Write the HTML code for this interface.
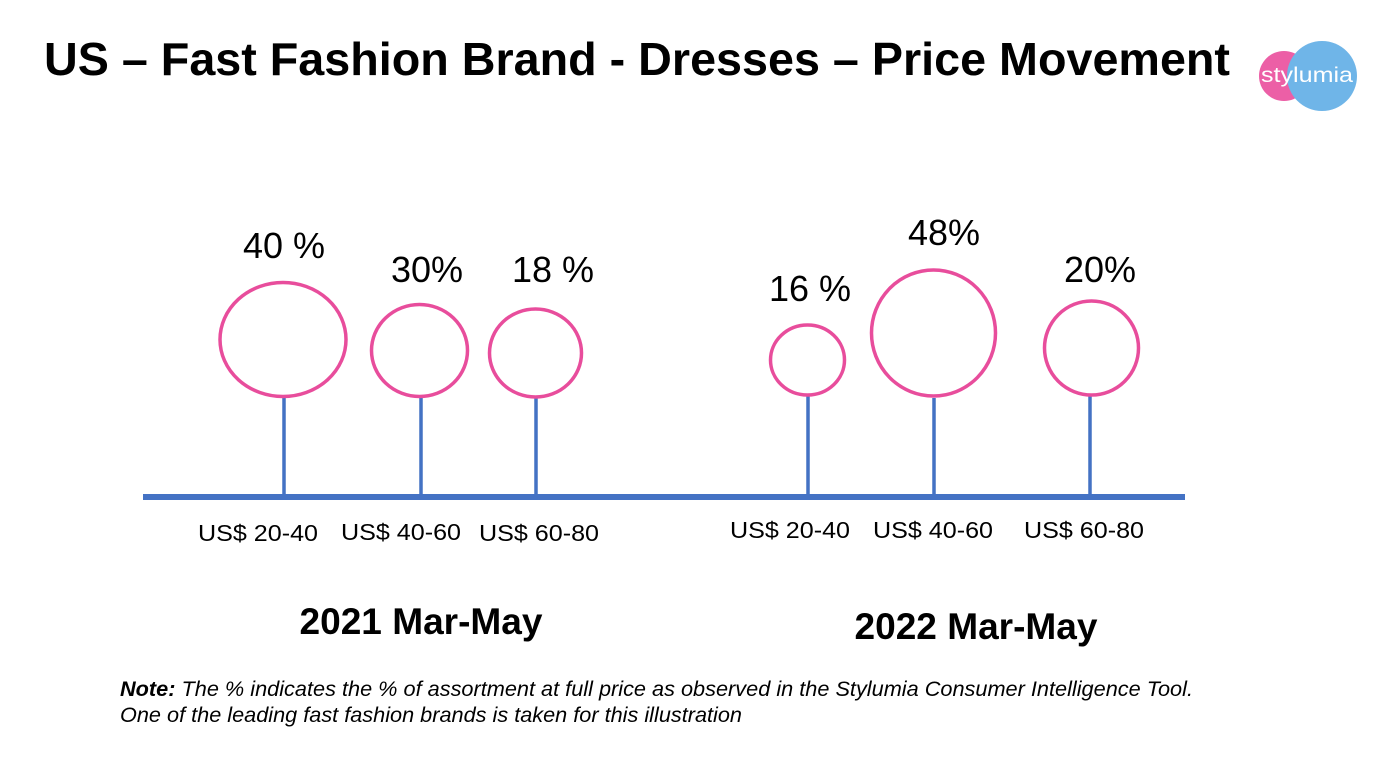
<!DOCTYPE html>
<html><head><meta charset="utf-8"><style>html,body{margin:0;padding:0;background:#fff}</style></head>
<body>
<svg width="1394" height="760" viewBox="0 0 1394 760" xmlns="http://www.w3.org/2000/svg" font-family="Liberation Sans, Arial, sans-serif">
<text x="44" y="75" font-size="46" font-weight="bold" fill="#000" textLength="1186" lengthAdjust="spacingAndGlyphs">US – Fast Fashion Brand - Dresses – Price Movement</text>
<!-- logo -->
<circle cx="1284" cy="76" r="25" fill="#ec5fa6"/>
<circle cx="1322" cy="76" r="35" fill="#6fb5e8"/>
<text x="1307" y="82" font-size="21" fill="#fff" text-anchor="middle" textLength="92" lengthAdjust="spacingAndGlyphs">stylumia</text>
<!-- axis -->
<rect x="143" y="494" width="1042" height="6" fill="#4472c4"/>
<g stroke="#4472c4" stroke-width="3.5">
<line x1="284" y1="398" x2="284" y2="495"/>
<line x1="421" y1="398" x2="421" y2="495"/>
<line x1="536" y1="398" x2="536" y2="495"/>
<line x1="808" y1="396" x2="808" y2="495"/>
<line x1="934" y1="398" x2="934" y2="495"/>
<line x1="1090" y1="396" x2="1090" y2="495"/>
</g>
<g fill="none" stroke="#e84d9c" stroke-width="3.5">
<ellipse cx="283" cy="339.5" rx="63" ry="57"/>
<ellipse cx="419.5" cy="350.5" rx="48" ry="46"/>
<ellipse cx="535.5" cy="353" rx="46" ry="44"/>
<ellipse cx="807.5" cy="360" rx="37" ry="35"/>
<ellipse cx="933.5" cy="333" rx="62" ry="63"/>
<ellipse cx="1091.5" cy="348" rx="47" ry="47"/>
</g>
<g font-size="36" fill="#000" text-anchor="middle">
<text x="284" y="258">40 %</text>
<text x="427" y="282">30%</text>
<text x="553" y="282">18 %</text>
<text x="810" y="301">16 %</text>
<text x="944" y="245">48%</text>
<text x="1100" y="282">20%</text>
</g>
<g font-size="23" fill="#000" text-anchor="middle">
<text x="258" y="541" textLength="120" lengthAdjust="spacingAndGlyphs">US$ 20-40</text>
<text x="401" y="540" textLength="120" lengthAdjust="spacingAndGlyphs">US$ 40-60</text>
<text x="539" y="541" textLength="120" lengthAdjust="spacingAndGlyphs">US$ 60-80</text>
<text x="790" y="538" textLength="120" lengthAdjust="spacingAndGlyphs">US$ 20-40</text>
<text x="933" y="538" textLength="120" lengthAdjust="spacingAndGlyphs">US$ 40-60</text>
<text x="1084" y="538" textLength="120" lengthAdjust="spacingAndGlyphs">US$ 60-80</text>
</g>
<g font-size="37" font-weight="bold" fill="#000" text-anchor="middle">
<text x="421" y="634" textLength="243" lengthAdjust="spacingAndGlyphs">2021 Mar-May</text>
<text x="976" y="639" textLength="243" lengthAdjust="spacingAndGlyphs">2022 Mar-May</text>
</g>
<g font-size="21" font-style="italic" fill="#000">
<text x="120" y="696" textLength="1073" lengthAdjust="spacingAndGlyphs"><tspan font-weight="bold">Note:</tspan> The % indicates the % of assortment at full price as observed in the Stylumia Consumer Intelligence Tool.</text>
<text x="120" y="722" textLength="622" lengthAdjust="spacingAndGlyphs">One of the leading fast fashion brands is taken for this illustration</text>
</g>
</svg>
</body></html>
